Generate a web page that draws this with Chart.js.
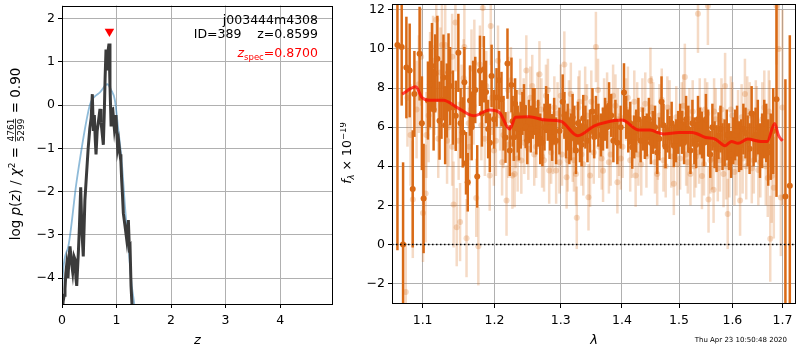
<!DOCTYPE html>
<html>
<head>
<meta charset="utf-8">
<script src="https://cdn.jsdelivr.net/npm/chart.js@4/dist/chart.umd.min.js"></script>
<style>
  body { margin: 0; background: #fff; }
  canvas { position: absolute; top: 0; }
</style>
</head>
<body>
<canvas id="pzChart" width="340" height="350" style="left:0"></canvas>
<canvas id="specChart" width="460" height="350" style="left:340px"></canvas>
<script>
// redshift probability panel
const zPz = [0.0,0.02,0.04,0.055,0.07,0.086,0.11,0.13,0.147,0.17,0.196,0.22,0.24,0.255,0.27,0.30,0.32,0.343,0.365,0.39,
  0.42,0.45,0.48,0.51,0.535,0.556,0.575,0.593,0.61,0.624,0.645,0.667,0.697,0.715,0.728,0.758,0.776,0.79,0.807,0.822,
  0.838,0.85,0.862,0.88,0.90,0.915,0.93,0.96,0.99,1.02,1.04,1.064,1.08,1.095,1.11,1.125,1.156,1.187,1.217,1.235,
  1.248,1.266,1.29,1.35];
const logPz = [-5.0,-4.55,-4.4,-4.25,-3.9,-3.7,-4.0,-3.5,-3.27,-3.6,-3.86,-3.5,-3.57,-4.0,-4.18,-3.41,-2.8,-1.9,-2.9,-3.5,
  -2.2,-1.6,-1.0,-0.54,-0.3,0.25,-0.6,-0.23,-0.8,-1.14,-0.6,-0.39,-0.09,-0.4,-0.54,-0.92,-0.16,0.6,1.28,0.8,
  1.05,1.3,1.42,0.45,-0.46,-0.1,-0.09,-0.54,-0.23,-1.0,-0.85,-1.14,-1.3,-1.75,-2.1,-2.5,-2.8,-3.11,-2.66,-3.3,
  -3.27,-4.18,-4.77,-6.0];
const zPrior = [0.0,0.01,0.116,0.27,0.51,0.575,0.70,0.83,0.90,0.97,1.03,1.095,1.156,1.217,1.28,1.32,1.4];
const logPrior = [-4.5,-4.02,-3.27,-1.75,0.0,0.16,0.30,0.48,0.35,0.11,-0.54,-1.3,-2.36,-3.27,-4.18,-4.55,-5.5];
const zSpec = 0.87;
const zTicks = [0, 1, 2, 3, 4];
const pzTicks = [-4, -3, -2, -1, 0, 1, 2];

// spectrum panel: binned points (dark) with their errors
const lamDark = [1.067,1.0725,1.0743,1.0786,1.0829,1.0869,1.0891,1.0960,1.1013,1.1071,
  1.1125,1.1169,1.1227,1.1281,1.1327,1.1372,1.1450,1.1486,1.1547,1.1593,
  1.1617,1.1649,1.1695,1.1751,1.1790,1.1846,1.1908,1.1957,1.2029,1.2101,
  1.2160,1.2189,1.2223,1.2248,1.2282,1.2322,1.2360,1.2411,1.2460,1.2509,
  1.2569,1.2621,1.2682,1.2747,1.2798,1.2866,1.2928,1.3031,1.3084,1.3136,
  1.3188,1.3242,1.3306,1.3359,1.3428,1.3509,1.3565,1.3646,1.3717,1.3783,
  1.3855,1.3922,1.4034,1.4107,1.4175,1.4243,1.4319,1.4393,1.4463,1.4533,
  1.4609,1.4686,1.4757,1.4829,1.4906,1.4984,1.5056,1.5129,1.5209,1.5282,
  1.5348,1.5422,1.5496,1.5578,1.5659,1.5734,1.5810,1.5892,1.5976,1.6053,
  1.6130,1.6214,1.6298,1.6377,1.6456,1.6543,1.6629,1.6709,1.6810,1.6877,
  1.7060,1.7151,
  1.0990,1.1098,1.1147,1.1198,1.1254,1.1304,1.1350,1.1411,1.1517,1.1570,
  1.1672,1.1723,1.1818,1.1877,1.1932,1.1993,1.2065,1.2131,1.2265,1.2302,
  1.2341,1.2386,1.2435,1.2485,1.2539,1.2595,1.2651,1.2715,1.2772,1.2832,
  1.2897,1.2980,1.3058,1.3110,1.3162,1.3215,1.3274,1.3333,1.3394,1.3468,
  1.3537,1.3606,1.3682,1.3750,1.3819,1.3889,1.3978,1.4070,1.4141,1.4209,
  1.4281,1.4356,1.4428,1.4498,1.4571,1.4648,1.4721,1.4793,1.4867,1.4945,
  1.5020,1.5092,1.5169,1.5245,1.5315,1.5385,1.5459,1.5537,1.5618,1.5697,
  1.5772,1.5851,1.5934,1.6015,1.6091,1.6172,1.6256,1.6337,1.6416,1.6500,
  1.6586,1.6669,1.6760];
const fluxDark = [10.2,10.1,0.0,9.05,8.9,2.84,7.7,9.76,2.35,7.36,
  9.13,8.75,6.33,8.54,7.36,8.1,6.58,9.8,5.73,4.15,
  3.18,7.36,7.69,3.48,8.88,8.96,5.9,8.62,7.52,7.43,
  5.47,9.25,4.8,8.16,5.47,6.7,5.5,6.7,6.02,6.3,
  6.7,5.8,5.4,6.0,6.5,5.47,5.3,7.3,5.6,5.3,
  6.5,4.8,5.3,6.45,5.3,6.8,6.5,5.6,6.4,7.1,
  5.3,5.2,7.77,5.8,4.97,5.8,5.3,5.47,6.4,5.73,
  4.7,7.3,5.0,5.47,5.05,5.73,5.73,6.4,4.8,5.3,
  6.4,5.6,6.4,4.6,5.1,5.56,5.0,5.6,4.6,5.6,
  5.0,5.9,5.3,6.7,5.6,4.8,5.9,4.7,5.8,7.43,
  2.45,3.0,
  6.2,8.2,6.9,9.5,7.4,6.1,8.8,7.0,6.2,8.3,
  6.0,7.9,6.7,7.8,5.2,6.4,8.4,6.2,6.3,7.2,
  5.9,6.1,7.0,5.3,5.9,6.8,6.2,5.2,6.9,6.0,
  6.3,5.8,6.6,6.0,5.5,5.9,6.2,5.1,6.0,5.8,
  5.5,6.1,5.9,6.0,6.6,6.3,6.0,6.5,6.2,5.5,
  6.4,5.9,5.6,5.2,6.0,5.4,6.1,5.8,6.2,5.3,
  6.1,5.2,5.9,6.2,5.1,5.8,5.2,5.7,6.0,4.9,
  5.9,5.2,5.0,5.3,5.8,5.1,5.7,4.9,5.4,6.0,
  5.3,5.7,5.0];
const errDark = [10.5,3.0,4.2,2.6,2.4,3.0,2.2,2.4,2.8,2.0,
  2.2,2.0,2.0,2.2,1.9,2.0,1.8,2.0,1.8,1.6,
  1.5,1.8,1.7,1.6,1.8,1.7,1.5,1.6,1.5,1.4,
  1.3,1.8,1.3,1.4,1.2,1.2,1.2,1.1,1.1,1.1,
  1.3,1.2,1.3,1.2,1.2,1.2,1.2,1.4,1.2,1.2,
  1.2,1.2,1.1,1.2,1.1,1.2,1.1,1.1,1.1,1.2,
  1.1,1.1,1.5,1.1,1.1,1.1,1.1,1.1,1.1,1.1,
  1.1,1.3,1.1,1.1,1.1,1.1,1.1,1.2,1.2,1.2,
  1.2,1.2,1.3,1.2,1.2,1.2,1.2,1.3,1.2,1.3,
  1.3,1.3,1.3,1.4,1.4,1.4,1.5,1.7,2.2,5.0,
  6.0,7.7,
  2.4,2.2,2.1,2.2,2.0,2.0,2.0,1.9,1.8,1.8,
  1.7,1.7,1.7,1.6,1.5,1.5,1.5,1.4,1.3,1.3,
  1.2,1.2,1.2,1.2,1.2,1.2,1.2,1.2,1.2,1.2,
  1.2,1.2,1.2,1.2,1.2,1.2,1.1,1.1,1.1,1.1,
  1.1,1.1,1.1,1.1,1.1,1.1,1.1,1.1,1.1,1.1,
  1.1,1.1,1.1,1.1,1.1,1.1,1.1,1.1,1.1,1.1,
  1.1,1.1,1.2,1.2,1.2,1.2,1.2,1.2,1.2,1.2,
  1.2,1.2,1.2,1.2,1.3,1.3,1.3,1.3,1.4,1.4,
  1.4,1.5,1.7];

// spectrum panel: unbinned points (faint) with their errors
const lamLight = [1.0778,1.080,1.087,1.092,1.098,1.1005,1.104,1.105,1.110,1.114,
  1.1183,1.121,1.126,1.1305,1.135,1.140,1.142,1.1445,1.1463,1.151,
  1.153,1.157,1.160,1.163,1.167,1.171,1.1737,1.1767,1.181,1.183,
  1.188,1.193,1.1945,1.199,1.205,1.213,1.2175,1.220,1.2262,1.2295,
  1.234,1.238,1.2395,1.244,1.247,1.253,1.259,1.264,1.267,1.271,
  1.277,1.282,1.285,1.290,1.2928,1.298,1.300,1.3057,1.3093,1.311,
  1.316,1.321,1.3242,1.3255,1.328,1.333,1.339,1.3444,1.347,1.353,
  1.3565,1.360,1.366,1.3683,1.375,1.381,1.389,1.3922,1.395,1.398,
  1.407,1.414,1.421,1.4233,1.428,1.435,1.442,1.449,1.451,1.457,
  1.4609,1.465,1.472,1.479,1.486,1.4906,1.495,1.502,1.508,1.5106,
  1.516,1.5209,1.525,1.531,1.5348,1.538,1.5422,1.546,1.552,1.5533,
  1.5545,1.561,1.5640,1.568,1.576,1.579,1.583,1.586,1.591,1.594,
  1.600,1.608,1.615,1.618,1.6245,1.627,1.634,1.642,1.648,1.651,
  1.659,1.666,1.672,1.675,1.678,1.6822,1.6877,1.692,1.6966,1.700,
  1.2080,1.2110,1.2200,1.2240,1.2310,1.2430,1.2500,1.2560,1.2620,1.2700,
  1.2740,1.2800,1.2880,1.2950,1.3020,1.3130,1.3190,1.3300,1.3360,1.3420,
  1.3490,1.3620,1.3700,1.3780,1.3850,1.3930,1.4010,1.4100,1.4170,1.4260,
  1.4330,1.4400,1.4540,1.4620,1.4690,1.4760,1.4830,1.4970,1.5050,1.5130,
  1.5190,1.5280,1.5370,1.5480,1.5580,1.5650,1.5720,1.5800,1.5880,1.5970,
  1.6040,1.6110,1.6200,1.6290,1.6380,1.6460,1.6550,1.6630,1.6700,1.6740,
  1.0840,1.0950,1.1080,1.1160,1.1240,1.1330,1.1400,1.1490,1.1560,1.1640,
  1.1700,1.1790,1.1860,1.1960,1.2020];
const fluxLight = [-2.43,7.5,2.3,6.9,9.6,1.6,2.6,5.6,8.37,9.4,
  11.5,5.4,10.2,10.2,6.0,5.0,2.04,11.35,0.88,1.14,
  7.2,10.1,0.32,6.2,9.0,9.3,2.38,-0.1,6.1,12.1,
  8.1,3.52,11.17,4.8,9.4,5.6,2.24,7.9,3.52,3.6,
  4.4,7.8,4.29,5.2,8.9,7.5,4.6,7.2,8.7,4.5,
  7.6,3.78,4.7,7.0,3.78,4.2,7.6,9.2,3.43,4.3,
  7.7,4.3,3.6,1.36,7.0,4.6,7.5,2.41,3.52,4.7,
  10.1,7.9,4.4,3.77,7.2,4.6,7.1,3.18,5.1,4.4,
  6.9,4.3,7.3,3.52,4.6,6.9,4.5,8.37,7.0,4.2,
  3.6,6.6,4.3,7.0,4.5,3.1,6.5,4.4,7.1,8.57,
  4.2,3.6,6.8,4.5,11.8,6.9,3.5,4.1,6.7,12.2,
  2.3,4.4,2.8,6.4,4.3,6.9,3.6,8.1,1.56,4.1,
  6.6,4.2,2.24,6.5,7.7,4.0,6.6,4.3,6.3,3.8,
  6.4,4.0,6.8,0.29,3.5,2.9,12.2,10.0,2.4,7.0,
  6.6,4.2,5.1,8.4,5.5,6.9,4.9,8.1,5.0,6.9,
  4.3,7.9,5.2,6.7,4.6,6.8,4.8,7.3,4.1,6.6,
  7.3,5.0,6.9,4.2,7.6,6.4,5.0,7.5,5.0,6.7,
  4.1,7.2,6.7,4.9,7.4,4.0,6.8,4.1,6.7,4.6,
  6.4,4.0,4.7,6.9,4.3,6.8,3.9,6.3,4.0,6.9,
  3.7,6.2,4.4,6.8,3.9,6.6,4.2,7.0,3.4,6.2,
  5.6,8.2,6.6,7.9,8.8,5.3,9.6,5.3,8.5,5.0,
  7.1,9.2,5.4,7.5,5.3];
const errLight = [2.5,2.5,3.0,2.5,2.5,2.5,2.5,2.2,2.5,2.3,
  2.5,2.0,2.2,2.5,2.0,2.0,2.2,2.5,2.0,2.0,
  2.0,2.2,2.0,1.9,2.0,2.2,2.0,2.0,1.8,2.0,
  1.8,1.8,2.0,1.8,1.8,1.7,1.8,1.7,1.7,1.7,
  1.7,1.7,1.7,1.6,1.8,1.6,1.6,1.6,1.7,1.6,
  1.6,1.7,1.6,1.6,1.7,1.6,1.6,1.7,1.6,1.6,
  1.6,1.6,1.6,1.6,1.6,1.6,1.6,1.7,1.6,1.6,
  1.8,1.6,1.6,1.6,1.6,1.6,1.6,1.6,1.6,1.6,
  1.6,1.6,1.6,1.6,1.6,1.6,1.6,1.7,1.6,1.6,
  1.6,1.6,1.6,1.6,1.6,1.6,1.6,1.6,1.6,1.7,
  1.6,1.6,1.6,1.6,2.0,1.6,1.7,1.6,1.6,2.0,
  1.7,1.6,1.7,1.6,1.6,1.6,1.7,1.7,1.8,1.7,
  1.7,1.7,1.8,1.7,1.8,1.7,1.7,1.7,1.8,1.8,
  1.9,2.0,2.1,2.2,2.4,2.6,3.0,4.0,3.0,5.0,
  1.8,1.7,1.7,1.7,1.6,1.6,1.6,1.6,1.6,1.6,
  1.6,1.6,1.6,1.6,1.6,1.6,1.6,1.6,1.6,1.6,
  1.6,1.6,1.6,1.6,1.6,1.6,1.6,1.6,1.6,1.6,
  1.6,1.6,1.6,1.6,1.6,1.6,1.6,1.6,1.6,1.6,
  1.6,1.6,1.6,1.6,1.7,1.7,1.7,1.7,1.7,1.7,
  1.7,1.7,1.8,1.8,1.8,1.8,1.8,1.9,2.0,2.2,
  2.6,2.5,2.4,2.3,2.3,2.2,2.2,2.0,2.0,2.0,
  2.0,2.0,1.9,1.9,1.8];

// continuum model through the spectrum
const lamModel = [1.073,1.091,1.099,1.11,1.128,1.147,1.170,1.193,1.207,1.222,1.231,1.251,1.277,1.300,1.327,1.354,1.372,
  1.400,1.429,1.448,1.472,1.500,1.524,1.549,1.567,1.586,1.598,1.611,1.630,1.656,1.669,1.684,1.692,1.700];
const fluxModel = [7.69,8.06,7.52,7.37,7.37,7.0,6.58,6.87,6.75,5.9,6.5,6.53,6.36,6.3,5.56,6.07,6.24,
  6.36,5.85,5.85,5.65,5.73,5.73,5.47,5.39,5.05,5.27,5.17,5.39,5.27,5.27,6.19,5.56,5.3];
const lamTicks = [1.1, 1.2, 1.3, 1.4, 1.5, 1.6, 1.7];
const fluxTicks = [-2, 0, 2, 4, 6, 8, 10, 12];

const FONT = "'DejaVu Sans', sans-serif";
const ORANGE = "rgb(217,106,22)";
const ORANGE_FAINT = "rgba(217,106,22,0.25)";

Chart.defaults.font.family = FONT;
Chart.defaults.font.size = 12.5;
Chart.defaults.color = "#000";

const pts = (xs, ys) => xs.map((x, i) => ({ x: x, y: ys[i] }));
const minus = v => (v < 0 ? "\u2212" + Math.abs(v) : String(v));

// draw a run of text pieces (font, vertical shift, fractions) starting at x
function drawPieces(ctx, pieces, x, y) {
  let cx = x;
  pieces.forEach(p => {
    ctx.font = p.font;
    if (p.frac) {
      const w = Math.max(ctx.measureText(p.frac[0]).width, ctx.measureText(p.frac[1]).width);
      ctx.textAlign = "center";
      ctx.fillText(p.frac[0], cx + w / 2 + 1, y - 5.5);
      ctx.fillText(p.frac[1], cx + w / 2 + 1, y + 4);
      ctx.fillRect(cx + 1, y - 4.3, w, 0.8);
      ctx.textAlign = "left";
      cx += w + 2;
    } else {
      ctx.textAlign = "left";
      ctx.fillText(p.text, cx, y + (p.dy || 0));
      cx += ctx.measureText(p.text).width;
    }
  });
  return cx - x;
}
function piecesWidth(ctx, pieces) {
  let w = 0;
  pieces.forEach(p => {
    ctx.font = p.font;
    if (p.frac) w += Math.max(ctx.measureText(p.frac[0]).width, ctx.measureText(p.frac[1]).width) + 2;
    else w += ctx.measureText(p.text).width;
  });
  return w;
}
function drawRotated(ctx, pieces, cx, cy) {
  ctx.save();
  ctx.translate(cx, cy);
  ctx.rotate(-Math.PI / 2);
  ctx.textBaseline = "alphabetic";
  drawPieces(ctx, pieces, -piecesWidth(ctx, pieces) / 2, 4.5);
  ctx.restore();
}

const base = "12.5px " + FONT, ital = "italic 12.5px " + FONT, small = "8.5px " + FONT, smallIt = "italic 8.5px " + FONT;
const lbl = "13.5px " + FONT, lblIt = "italic 13.5px " + FONT, lblSmall = "9px " + FONT;

// frame round the plot area
const frame = {
  id: "frame",
  afterDraw(chart) {
    const a = chart.chartArea, ctx = chart.ctx;
    ctx.save();
    ctx.strokeStyle = "#000";
    ctx.lineWidth = 1;
    ctx.strokeRect(Math.round(a.left) + 0.5, Math.round(a.top) + 0.5,
      Math.round(a.right - a.left) - 1, Math.round(a.bottom - a.top) - 1);
    ctx.restore();
  }
};

// vertical error bars under each point of datasets that carry errors
const errorBars = {
  id: "errorBars",
  beforeDatasetDraw(chart, args) {
    const ds = chart.data.datasets[args.index];
    if (!ds.errors) return;
    const xs = chart.scales.x, ys = chart.scales.y, a = chart.chartArea, ctx = chart.ctx;
    ctx.save();
    ctx.beginPath();
    ctx.rect(a.left, a.top, a.right - a.left, a.bottom - a.top);
    ctx.clip();
    ctx.strokeStyle = ds.errorColor;
    ctx.lineWidth = ds.errorWidth;
    ds.data.forEach((p, i) => {
      const px = xs.getPixelForValue(p.x);
      ctx.beginPath();
      ctx.moveTo(px, ys.getPixelForValue(p.y - ds.errors[i]));
      ctx.lineTo(px, ys.getPixelForValue(p.y + ds.errors[i]));
      ctx.stroke();
    });
    ctx.restore();
  }
};

function fixedAxis(size, vertical) {
  return function (scale) {
    if (vertical) scale.width = size; else scale.height = size;
    scale.paddingTop = 0; scale.paddingBottom = 0;
    scale.paddingLeft = 0; scale.paddingRight = 0;
  };
}
const gridOpts = { color: "#b0b0b0", lineWidth: 1, tickColor: "#000", tickLength: 4 };

const pzLabels = {
  id: "pzLabels",
  afterDraw(chart) {
    const ctx = chart.ctx;
    ctx.save();
    ctx.fillStyle = "#000";
    ctx.textBaseline = "alphabetic";
    ctx.font = base;
    ctx.textAlign = "right";
    ctx.fillText("j003444m4308", 318, 24);
    ctx.fillText("ID=389    z=0.8599", 318, 38);
    ctx.fillStyle = "#ff0000";
    const zs = [
      { text: "z", font: ital },
      { text: "spec", font: small, dy: 3 },
      { text: "=0.8700", font: base }
    ];
    drawPieces(ctx, zs, 318 - piecesWidth(ctx, zs), 57);
    ctx.fillStyle = "#000";
    ctx.font = "italic 13px " + FONT;
    ctx.textAlign = "center";
    ctx.fillText("z", (chart.chartArea.left + chart.chartArea.right) / 2, 344);
    drawRotated(ctx, [
      { text: "log ", font: lbl },
      { text: "p", font: lblIt },
      { text: "(", font: lbl },
      { text: "z", font: lblIt },
      { text: ") / ", font: lbl },
      { text: "\u03c7", font: lblIt },
      { text: "2", font: lblSmall, dy: -5 },
      { text: " = ", font: lbl },
      { frac: ["4761", "5299"], font: lblSmall },
      { text: " = 0.90", font: lbl }
    ], 15, 154);
    ctx.restore();
  }
};

new Chart(document.getElementById("pzChart"), {
  type: "line",
  data: {
    datasets: [
      {
        data: pts([zSpec], [1.7]),
        showLine: false,
        pointStyle: "triangle",
        rotation: 180,
        pointRadius: 5.5,
        backgroundColor: "#ff0000",
        borderColor: "#ff0000",
        borderWidth: 0,
        clip: false
      },
      {
        data: pts(zPz, logPz),
        borderColor: "#3b3b3b",
        borderWidth: 3,
        pointRadius: 0,
        tension: 0
      },
      {
        data: pts(zPrior, logPrior),
        borderColor: "rgba(31,119,180,0.5)",
        borderWidth: 1.8,
        pointRadius: 0,
        cubicInterpolationMode: "monotone"
      }
    ]
  },
  options: {
    responsive: false,
    animation: false,
    devicePixelRatio: 1,
    layout: { padding: { top: 1, right: 7, left: 0, bottom: 0 } },
    plugins: { legend: { display: false }, tooltip: { enabled: false } },
    scales: {
      x: {
        type: "linear", min: 0, max: 4.97,
        afterBuildTicks: s => { s.ticks = zTicks.map(v => ({ value: v })); },
        afterFit: fixedAxis(46, false),
        ticks: { padding: 5, maxRotation: 0, callback: v => minus(v) },
        grid: gridOpts,
        border: { display: false }
      },
      y: {
        min: -4.6, max: 2.3,
        afterBuildTicks: s => { s.ticks = pzTicks.map(v => ({ value: v })); },
        afterFit: fixedAxis(62, true),
        ticks: { padding: 3, callback: v => minus(v) },
        grid: gridOpts,
        border: { display: false }
      }
    }
  },
  plugins: [frame, pzLabels]
});

const specLabels = {
  id: "specLabels",
  afterDraw(chart) {
    const ctx = chart.ctx;
    ctx.save();
    ctx.fillStyle = "#000";
    ctx.font = "italic 13px " + FONT;
    ctx.textAlign = "center";
    ctx.textBaseline = "alphabetic";
    ctx.fillText("\u03bb", (chart.chartArea.left + chart.chartArea.right) / 2, 344);
    drawRotated(ctx, [
      { text: "f", font: ital },
      { text: "\u03bb", font: smallIt, dy: 3 },
      { text: " \u00d7 10", font: base },
      { text: "\u221219", font: small, dy: -5 }
    ], 6, 153);
    ctx.font = "7px " + FONT;
    ctx.textAlign = "right";
    ctx.fillText("Thu Apr 23 10:50:48 2020", 447, 342);
    ctx.restore();
  }
};

new Chart(document.getElementById("specChart"), {
  type: "scatter",
  data: {
    datasets: [
      {
        type: "line",
        data: pts([1.06, 1.728], [0, 0]),
        borderColor: "#000",
        borderWidth: 1.5,
        borderDash: [1.5, 2.5],
        pointRadius: 0,
        order: 0
      },
      {
        type: "line",
        data: pts(lamModel, fluxModel),
        borderColor: "rgba(255,0,0,0.7)",
        borderWidth: 3,
        pointRadius: 0,
        cubicInterpolationMode: "monotone",
        order: 1
      },
      {
        data: pts(lamDark, fluxDark),
        errors: errDark,
        errorColor: ORANGE,
        errorWidth: 2.5,
        pointRadius: 3,
        backgroundColor: ORANGE,
        borderWidth: 0,
        order: 2
      },
      {
        data: pts(lamLight, fluxLight),
        errors: errLight,
        errorColor: ORANGE_FAINT,
        errorWidth: 2.5,
        pointRadius: 3,
        backgroundColor: ORANGE_FAINT,
        borderWidth: 0,
        order: 3
      }
    ]
  },
  options: {
    responsive: false,
    animation: false,
    devicePixelRatio: 1,
    layout: { padding: { top: 1, right: 1, left: 0, bottom: 0 } },
    plugins: { legend: { display: false }, tooltip: { enabled: false } },
    scales: {
      x: {
        type: "logarithmic", min: 1.06, max: 1.728,
        afterBuildTicks: s => { s.ticks = lamTicks.map(v => ({ value: v })); },
        afterFit: fixedAxis(46, false),
        ticks: { padding: 5, maxRotation: 0, callback: v => Number(v).toFixed(1) },
        grid: gridOpts,
        border: { display: false }
      },
      y: {
        type: "linear", min: -3.05, max: 12.3,
        afterBuildTicks: s => { s.ticks = fluxTicks.map(v => ({ value: v })); },
        afterFit: fixedAxis(52, true),
        ticks: { padding: 3, callback: v => minus(v) },
        grid: gridOpts,
        border: { display: false }
      }
    }
  },
  plugins: [frame, errorBars, specLabels]
});
</script>
</body>
</html>
